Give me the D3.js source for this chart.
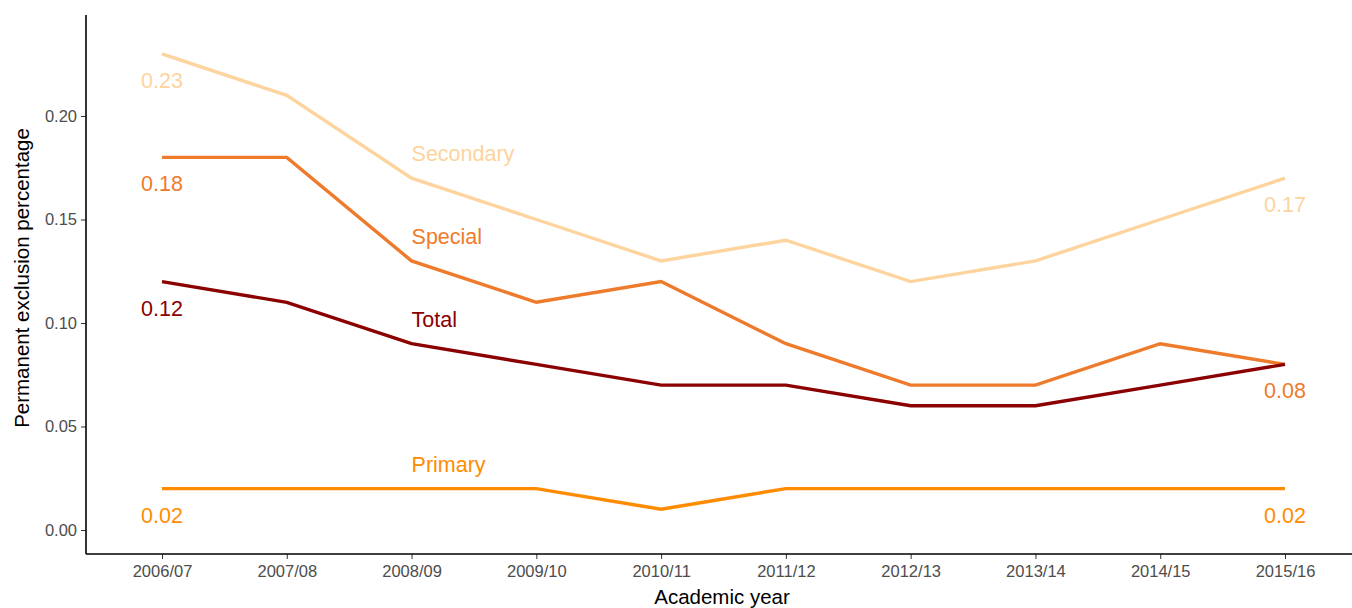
<!DOCTYPE html>
<html><head><meta charset="utf-8">
<script src="https://cdn.jsdelivr.net/npm/d3@7"></script>
<style>body{margin:0;background:#fff;}svg{display:block;font-family:Arial,"Liberation Sans",sans-serif;}</style>
</head><body>
<svg id="chart" width="1352" height="608"></svg>
<script>
const years = ["2006/07","2007/08","2008/09","2009/10","2010/11","2011/12","2012/13","2013/14","2014/15","2015/16"];
const seriesNames = ["Secondary","Special","Total","Primary"];
const secondary = [0.23,0.21,0.17,0.15,0.13,0.14,0.12,0.13,0.15,0.17];
const special   = [0.18,0.18,0.13,0.11,0.12,0.09,0.07,0.07,0.09,0.08];
const total     = [0.12,0.11,0.09,0.08,0.07,0.07,0.06,0.06,0.07,0.08];
const primary   = [0.02,0.02,0.02,0.02,0.01,0.02,0.02,0.02,0.02,0.02];
const yTicks = [0.00,0.05,0.10,0.15,0.20];
const colors = {Secondary:"#FDD49E", Special:"#EE7A2B", Total:"#8B0000", Primary:"#FF8C00"};
const showEnd = {Secondary:true, Special:true, Total:false, Primary:true};
const values = {Secondary:secondary, Special:special, Total:total, Primary:primary};

const svg = d3.select("#chart");
const x = d3.scalePoint().domain(years).range([162,1285]);
const y = d3.scaleLinear().domain([-0.0116,0.2488]).range([554,15]);

const FF = "Arial, 'Liberation Sans', sans-serif";

const xAxis = svg.append("g").attr("transform","translate(0,554)")
  .call(d3.axisBottom(x).tickSize(5).tickPadding(6));
xAxis.attr("font-family",FF).attr("font-size",16.5);
xAxis.select(".domain").remove();
xAxis.append("line").attr("x1",86).attr("x2",1352).attr("y1",0).attr("y2",0).attr("stroke","#000").attr("stroke-width",1.6);
xAxis.selectAll(".tick line").attr("stroke","#333");
xAxis.selectAll("text").attr("fill","#4d4d4d");

const yAxis = svg.append("g").attr("transform","translate(86,0)")
  .call(d3.axisLeft(y).tickValues(yTicks).tickFormat(d3.format(".2f")).tickSize(5).tickPadding(4));
yAxis.attr("font-family",FF).attr("font-size",16.5);
yAxis.select(".domain").remove();
yAxis.append("line").attr("x1",0).attr("x2",0).attr("y1",15).attr("y2",554).attr("stroke","#000").attr("stroke-width",1.6);
yAxis.selectAll(".tick line").attr("stroke","#333");
yAxis.selectAll("text").attr("fill","#4d4d4d");

svg.append("text").attr("x",722).attr("y",604).attr("text-anchor","middle").attr("font-size",20.5).attr("fill","#000").text("Academic year");
svg.append("text").attr("transform","translate(29,278) rotate(-90)").attr("text-anchor","middle").attr("font-size",20.5).attr("fill","#000").text("Permanent exclusion percentage");

const line = d3.line().x((d,i)=>x(years[i])).y(d=>y(d));
const fmt = d3.format(".2f");
seriesNames.forEach(name=>{
  const v = values[name], c = colors[name];
  svg.append("path").datum(v).attr("d",line).attr("fill","none").attr("stroke",c).attr("stroke-width",3.4).attr("stroke-linejoin","miter");
  svg.append("text").attr("x",x(years[0])).attr("y",y(v[0])+34).attr("text-anchor","middle").attr("font-size",21.5).attr("fill",c).text(fmt(v[0]));
  if (showEnd[name]) {
    const n = v.length-1;
    svg.append("text").attr("x",x(years[n])).attr("y",y(v[n])+34).attr("text-anchor","middle").attr("font-size",21.5).attr("fill",c).text(fmt(v[n]));
  }
  svg.append("text").attr("x",x(years[2])).attr("y",y(v[2])-17).attr("text-anchor","start").attr("font-size",21.5).attr("fill",c).text(name);
});
</script>
</body></html>
